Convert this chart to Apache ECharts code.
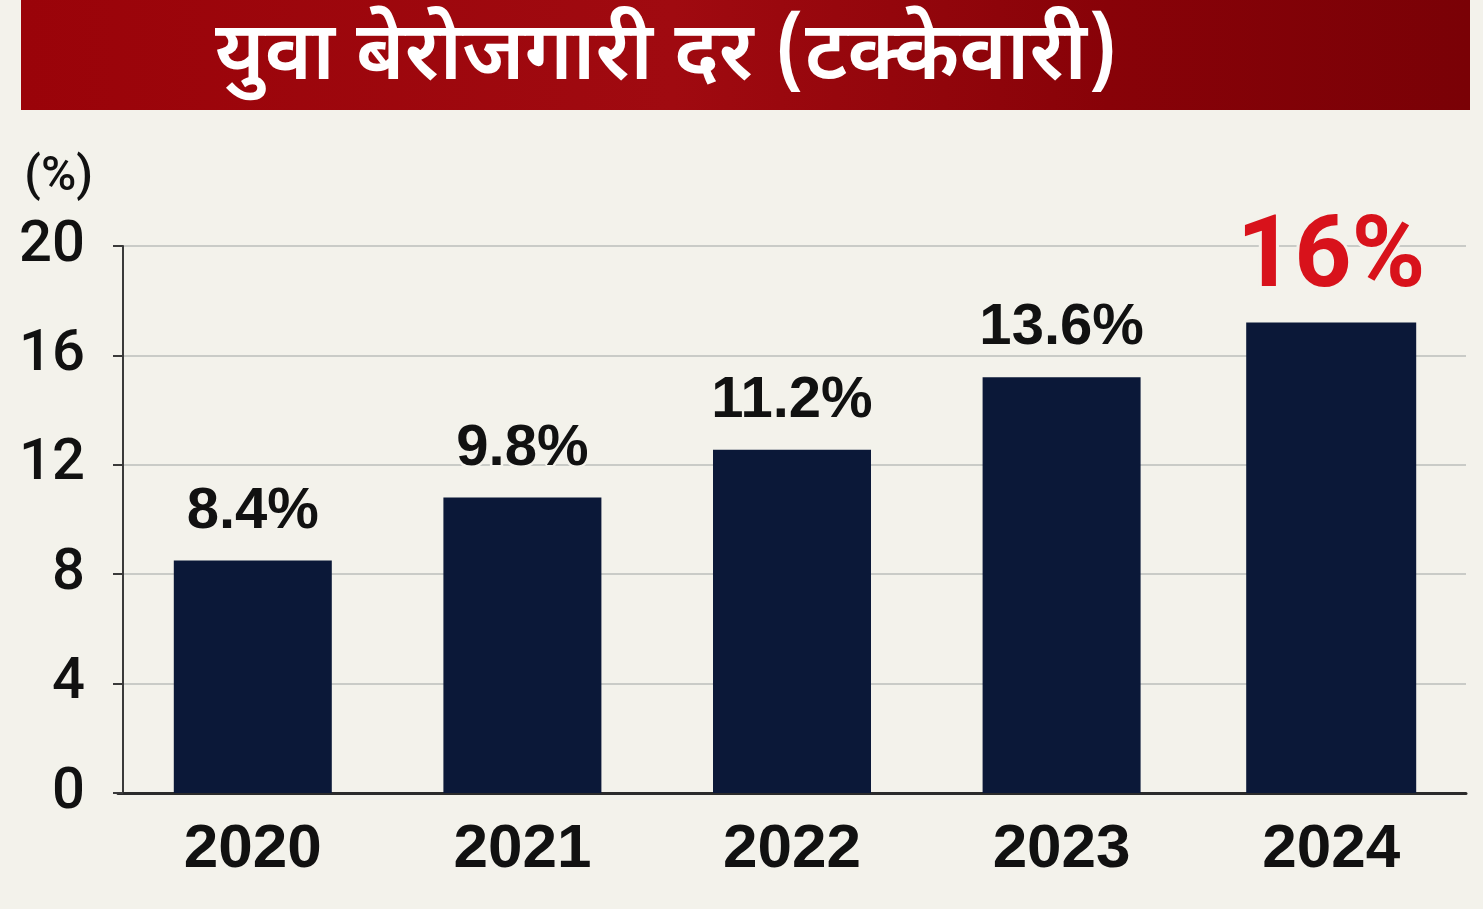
<!DOCTYPE html>
<html>
<head>
<meta charset="utf-8">
<script src="https://cdn.jsdelivr.net/npm/echarts@6/dist/echarts.min.js"></script>
<style>
  html, body { margin: 0; padding: 0; background: #f3f2eb; }
  #main { width: 1483px; height: 909px; }
</style>
</head>
<body>
<div id="main"></div>
<script>
// years on the x axis
var years = ['2020', '2021', '2022', '2023', '2024'];
// rate printed above each bar
var printedRates = [8.4, 9.8, 11.2, 13.6, 16];
var barHeights = [8.5, 10.8, 12.55, 15.2, 17.2];
// y axis ticks
var yTicks = [0, 4, 8, 12, 16, 20];

var chartTitle = 'युवा बेरोजगारी दर (टक्केवारी)';
var lastIdx = years.length - 1;

var mychart = echarts.init(document.getElementById('main'));

var labelFont = "'Liberation Sans', Arial, sans-serif";
var tickFont = "Roboto, 'Liberation Sans', Arial, sans-serif";

var normalBars = barHeights.map(function (v, i) { return i === lastIdx ? null : v; });
var highlightBar = barHeights.map(function (v, i) { return i === lastIdx ? v : null; });

option = {
    backgroundColor: '#f3f2eb',
    animation: false,
    title: {
        text: chartTitle,
        left: 210,
        top: 18,
        textStyle: {
            color: '#ffffff',
            fontSize: 81,
            fontWeight: 600,
            fontFamily: "'Noto Sans Devanagari', 'Noto Sans', 'Lohit Devanagari', sans-serif"
        }
    },
    graphic: [
        {
            type: 'rect',
            z: -1,
            shape: { x: 21, y: 0, width: 1449, height: 110 },
            style: {
                fill: new echarts.graphic.LinearGradient(0, 0, 1, 0, [
                    { offset: 0, color: '#9a0309' },
                    { offset: 0.45, color: '#a00a10' },
                    { offset: 0.75, color: '#880208' },
                    { offset: 1, color: '#7a0106' }
                ])
            }
        }
    ],
    grid: {
        left: 118,
        right: 17,
        top: 246,
        bottom: 116
    },
    xAxis: [
        {
            type: 'category',
            data: years,
            axisLine: { lineStyle: { color: '#2b2b2b', width: 3 } },
            axisTick: { show: false },
            axisLabel: {
                color: '#111',
                fontSize: 62,
                fontWeight: 'bold',
                fontFamily: labelFont,
                margin: 26
            }
        },
        {
            type: 'category',
            data: years,
            show: false
        }
    ],
    yAxis: {
        type: 'value',
        min: yTicks[0],
        max: yTicks[yTicks.length - 1],
        interval: 4,
        offset: -5,
        name: '(%)',
        nameLocation: 'end',
        nameGap: 44,
        nameTextStyle: {
            color: '#111',
            fontSize: 48,
            fontWeight: 500,
            fontFamily: tickFont,
            align: 'right',
            padding: [0, 30, 0, 0]
        },
        axisLine: { show: true, lineStyle: { color: '#3a3a3a', width: 2 } },
        axisTick: { show: true, length: 10, lineStyle: { color: '#3a3a3a', width: 2 } },
        axisLabel: {
            color: '#111',
            fontSize: 58,
            fontWeight: 500,
            fontFamily: tickFont,
            margin: 38
        },
        splitLine: { lineStyle: { color: '#c9cbc7', width: 2 } }
    },
    series: [
        {
            type: 'bar',
            xAxisIndex: 0,
            data: normalBars,
            barWidth: 158,
            itemStyle: { color: '#0b1838' },
            label: {
                show: true,
                position: 'top',
                distance: 20,
                color: '#111',
                fontSize: 58,
                fontWeight: 'bold',
                fontFamily: labelFont,
                textBorderColor: '#f3f2eb',
                textBorderWidth: 5,
                formatter: function (p) { return printedRates[p.dataIndex] + '%'; }
            }
        },
        {
            type: 'bar',
            xAxisIndex: 1,
            data: highlightBar,
            barWidth: 170,
            itemStyle: { color: '#0b1838' },
            label: {
                show: true,
                position: 'top',
                distance: 12,
                color: '#d8121b',
                fontSize: 100,
                fontWeight: 'bold',
                fontFamily: "Roboto, 'Liberation Sans', Arial, sans-serif",
                textBorderColor: '#f3f2eb',
                textBorderWidth: 6,
                formatter: function (p) { return printedRates[p.dataIndex] + '%'; }
            }
        }
    ]
};

mychart.setOption(option, true);
window.onresize = mychart.resize;
</script>
</body>
</html>
